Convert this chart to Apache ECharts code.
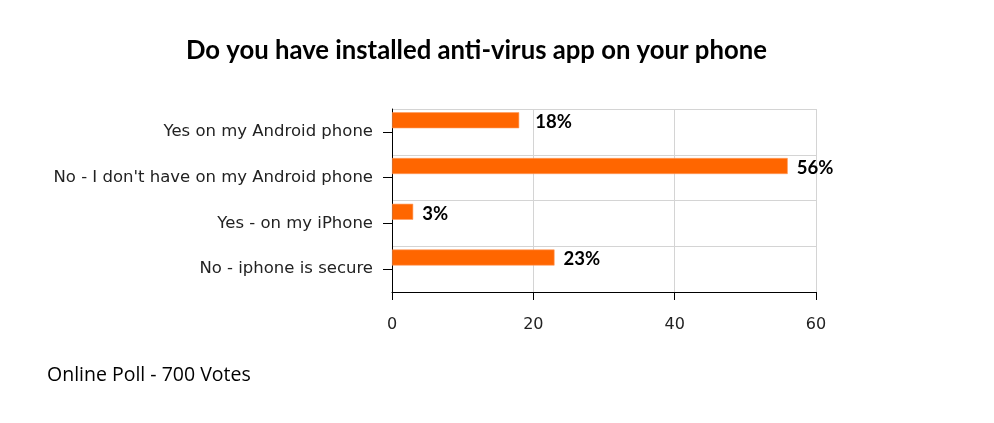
<!DOCTYPE html>
<html>
<head>
<meta charset="utf-8">
<script src="https://cdn.jsdelivr.net/npm/echarts@6/dist/echarts.min.js"></script>
<style>
    html, body { margin: 0; padding: 0; background: #fff; }
    #chart { width: 994px; height: 423px; }
</style>
</head>
<body>
<div id="chart"></div>
<script>
// poll answers and their share of votes (%)
var answers = ['Yes on my Android phone', "No - I don't have on my Android phone", 'Yes - on my iPhone', 'No - iphone is secure'];
var shares = [18, 56, 3, 23];
var xTicks = [0, 20, 40, 60];

// first label sits a bit further from its bar in the original
var barData = shares.map(function (v, i) {
    return i === 0 ? { value: v, label: { distance: 16 } } : v;
});

var chart = echarts.init(document.getElementById('chart'));
chart.setOption({
    animation: false,
    title: {
        text: 'Do you have installed anti-virus app on your phone',
        left: 181,
        top: 33,
        textStyle: { fontFamily: 'Lato', fontWeight: 'bold', fontSize: 25.7, color: '#000' }
    },
    graphic: [{
        type: 'text',
        left: 47,
        top: 365,
        style: { text: 'Online Poll - 700 Votes', font: '19.5px "Open Sans"', fill: '#000' }
    }],
    grid: { left: 392, right: 178, top: 109, bottom: 131, containLabel: false },
    xAxis: {
        type: 'value',
        min: xTicks[0],
        max: xTicks[xTicks.length - 1],
        interval: 20,
        axisLine: { show: true, lineStyle: { color: '#000', width: 1 } },
        axisTick: { show: true, length: 8, lineStyle: { color: '#000' } },
        axisLabel: { margin: 25, fontFamily: 'DejaVu Sans', fontSize: 16, color: '#222' },
        splitLine: { show: true, lineStyle: { color: '#d4d4d4' } }
    },
    yAxis: {
        type: 'category',
        inverse: true,
        data: answers,
        axisLine: { show: true, lineStyle: { color: '#000', width: 1 } },
        axisTick: { show: true, alignWithLabel: true, length: 9, lineStyle: { color: '#000' } },
        axisLabel: { margin: 19, padding: [8, 0, 0, 0], fontFamily: 'DejaVu Sans', fontSize: 16.5, color: '#222' },
        splitLine: { show: true, lineStyle: { color: '#d4d4d4' } }
    },
    series: [{
        type: 'bar',
        data: barData,
        barWidth: 16,
        barGap: '45%',
        itemStyle: { color: '#ff6600', borderColor: '#ff9a5c', borderWidth: 0.6 },
        label: {
            show: true,
            position: 'right',
            distance: 9,
            offset: [0, 2],
            formatter: '{c}%',
            fontFamily: 'Lato',
            fontWeight: 'bold',
            fontSize: 18.5,
            color: '#000'
        }
    }, {
        // empty companion series: keeps bars in the upper half of each row
        type: 'bar',
        data: [],
        barWidth: 16
    }]
});
</script>
</body>
</html>
